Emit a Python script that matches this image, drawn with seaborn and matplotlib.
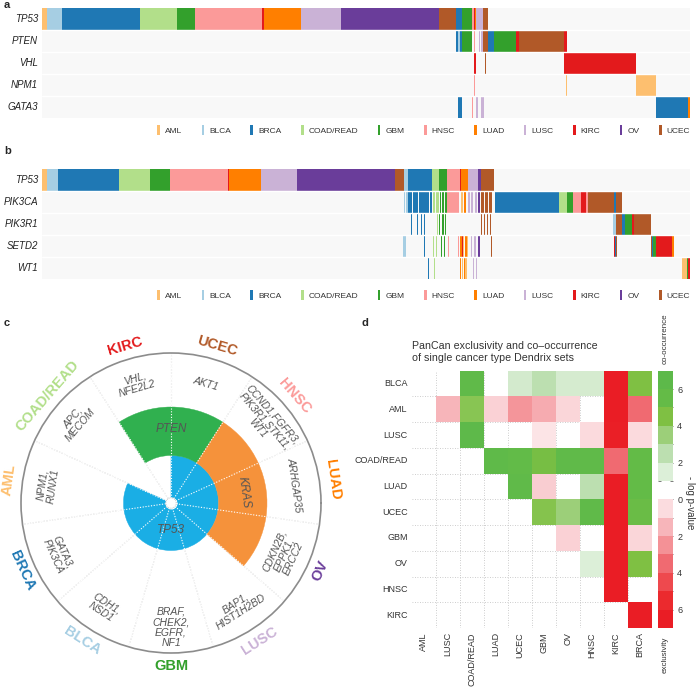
import numpy as np
import pandas as pd
import matplotlib
matplotlib.use("Agg")
import matplotlib.pyplot as plt
import seaborn as sns
from matplotlib.colors import ListedColormap, LinearSegmentedColormap
from matplotlib.patches import Patch

sns.set_style("white")
plt.rcParams['font.family'] = ['Liberation Sans', 'DejaVu Sans']

# cancer types and their colours (Paired palette)
cancers = ["AML", "BLCA", "BRCA", "COAD/READ", "GBM", "HNSC", "LUAD", "LUSC", "KIRC", "OV", "UCEC"]
palette = ["#fdbf6f", "#a6cee3", "#1f78b4", "#b2df8a", "#33a02c", "#fb9a99",
           "#ff7f00", "#cab2d6", "#e31a1c", "#6a3d9a", "#b15928"]
n_samples = 1458

# --- panel a: mutated samples per gene, runs of (cancer, first sample, last sample) ---
genes_a = ["TP53", "PTEN", "VHL", "NPM1", "GATA3"]
tp53_a = [("AML", 0, 10), ("BLCA", 10, 45), ("BRCA", 45, 221), ("COAD/READ", 221, 303),
          ("GBM", 303, 343), ("HNSC", 343, 495), ("KIRC", 495, 499), ("LUAD", 499, 583),
          ("LUSC", 583, 673), ("OV", 673, 893), ("UCEC", 893, 931), ("BRCA", 931, 944),
          ("GBM", 944, 966), ("HNSC", 968, 972), ("KIRC", 972, 974), ("LUAD", 974, 977),
          ("LUSC", 977, 991), ("UCEC", 991, 1004)]
pten_a = [("BRCA", 931, 935), ("BLCA", 935, 940), ("BRCA", 940, 944), ("GBM", 944, 966),
          ("HNSC", 972, 973), ("LUSC", 982, 984), ("LUSC", 988, 991), ("UCEC", 991, 1004),
          ("BRCA", 1004, 1017), ("GBM", 1017, 1065), ("KIRC", 1065, 1073),
          ("UCEC", 1073, 1174), ("KIRC", 1174, 1181)]
vhl_a = [("KIRC", 972, 975), ("UCEC", 987, 988), ("UCEC", 997, 998), ("KIRC", 1175, 1335)]
npm1_a = [("HNSC", 972, 973), ("AML", 1179, 1181), ("AML", 1335, 1380)]
gata3_a = [("BRCA", 935, 944), ("HNSC", 967, 970), ("LUSC", 975, 981), ("LUSC", 987, 993),
           ("BLCA", 1174, 1175), ("BRCA", 1381, 1453), ("LUAD", 1453, 1458)]

# --- panel b ---
genes_b = ["TP53", "PIK3CA", "PIK3R1", "SETD2", "WT1"]
tp53_b = [("AML", 0, 10), ("BLCA", 10, 35), ("BRCA", 35, 173), ("COAD/READ", 173, 243),
          ("GBM", 243, 287), ("HNSC", 287, 417), ("KIRC", 417, 421), ("LUAD", 421, 493),
          ("LUSC", 493, 573), ("OV", 573, 793), ("UCEC", 793, 813), ("BLCA", 813, 823),
          ("BRCA", 823, 878), ("COAD/READ", 878, 893), ("GBM", 893, 910), ("HNSC", 910, 940),
          ("KIRC", 940, 942), ("LUAD", 942, 957), ("LUSC", 957, 981), ("OV", 981, 987),
          ("UCEC", 987, 1016)]
pik3ca_b = [("BLCA", 813, 816), ("BLCA", 819, 822), ("BRCA", 824, 832), ("BRCA", 834, 846),
            ("BRCA", 848, 858), ("BRCA", 860, 870), ("BRCA", 872, 878), ("COAD/READ", 880, 884),
            ("COAD/READ", 887, 892), ("GBM", 894, 898), ("GBM", 900, 905), ("GBM", 907, 910),
            ("HNSC", 911, 938), ("AML", 943, 946), ("LUAD", 948, 953), ("LUSC", 958, 962),
            ("LUSC", 964, 970), ("LUSC", 973, 978), ("OV", 981, 984), ("UCEC", 988, 995),
            ("UCEC", 997, 1004), ("UCEC", 1006, 1012), ("BRCA", 1019, 1163),
            ("COAD/READ", 1163, 1180), ("GBM", 1180, 1195), ("HNSC", 1195, 1213),
            ("KIRC", 1213, 1223), ("HNSC", 1223, 1227), ("UCEC", 1228, 1287),
            ("BRCA", 1287, 1290), ("UCEC", 1290, 1304)]
pik3r1_b = [("BRCA", 830, 832), ("BRCA", 843, 845), ("BRCA", 853, 855), ("BRCA", 860, 862),
            ("COAD/READ", 888, 890), ("GBM", 893, 896), ("GBM", 899, 903), ("GBM", 906, 909),
            ("LUAD", 957, 959), ("UCEC", 987, 990), ("UCEC", 994, 997), ("UCEC", 1001, 1004),
            ("UCEC", 1008, 1010), ("BLCA", 1285, 1291), ("UCEC", 1291, 1304),
            ("BRCA", 1304, 1311), ("GBM", 1311, 1328), ("KIRC", 1328, 1332), ("UCEC", 1332, 1369)]
setd2_b = [("BLCA", 812, 819), ("BRCA", 860, 862), ("COAD/READ", 879, 881),
           ("COAD/READ", 886, 888), ("GBM", 898, 900), ("GBM", 905, 907), ("HNSC", 913, 915),
           ("HNSC", 935, 937), ("LUAD", 940, 944), ("KIRC", 945, 947), ("AML", 947, 950),
           ("LUAD", 951, 955), ("AML", 956, 958), ("LUSC", 965, 968), ("LUSC", 972, 976),
           ("OV", 980, 986), ("UCEC", 1010, 1012), ("KIRC", 1286, 1288), ("BRCA", 1288, 1290),
           ("UCEC", 1291, 1293), ("UCEC", 1299, 1301), ("UCEC", 1369, 1371), ("BRCA", 1371, 1375),
           ("GBM", 1375, 1381), ("KIRC", 1381, 1416), ("LUAD", 1416, 1421)]
wt1_b = [("BLCA", 813, 815), ("BRCA", 868, 870), ("COAD/READ", 881, 883), ("LUAD", 940, 943),
         ("AML", 944, 947), ("LUAD", 948, 951), ("AML", 952, 956), ("LUSC", 969, 972),
         ("LUSC", 976, 979), ("AML", 1440, 1450), ("GBM", 1450, 1453), ("KIRC", 1453, 1457)]

# --- panel c: Dendrix sets per cancer type ---
sector_types = ["UCEC", "HNSC", "LUAD", "OV", "LUSC", "GBM", "BLCA", "BRCA", "AML", "COAD/READ", "KIRC"]
sector_genes = ["AKT1", "CCND1,FGFR3,\nPIK3R1,STK11,\nWT1", "ARHGAP35", "CDKN2B,\nEPPK1,\nERCC2",
                "BAP1,\nHIST1H2BD", "BRAF,\nCHEK2,\nEGFR,\nNF1", "CDH1,\nNSD1", "GATA3,\nPIK3CA",
                "NPM1,\nRUNX1", "APC,\nMECOM", "VHL,\nNFE2L2"]
tp53_types = ["UCEC", "HNSC", "LUAD", "OV", "LUSC", "GBM", "BLCA", "BRCA", "AML"]
pten_types = ["KIRC", "UCEC"]
kras_types = ["HNSC", "LUAD", "OV"]

# --- panel d: -log p-values (negative = co-occurrence, positive = exclusivity) ---
d_rows = ["BLCA", "AML", "LUSC", "COAD/READ", "LUAD", "UCEC", "GBM", "OV", "HNSC", "KIRC"]
d_cols = ["AML", "LUSC", "COAD/READ", "LUAD", "UCEC", "GBM", "OV", "HNSC", "KIRC", "BRCA"]
n = np.nan
d_vals = [
    [n, n, -6.0, n, -1.8, -2.5, -1.7, -1.7, 6.6, -4.5],
    [n, 1.5, -4.2, 0.8, 2.4, 1.8, 0.7, n, 6.8, 3.5],
    [n, n, -6.3, n, n, 0.3, n, 0.6, 6.3, 0.6],
    [n, n, n, -6.2, -5.7, -4.8, -6.0, -6.0, 3.5, -5.6],
    [n, n, n, n, -6.0, 0.9, n, -2.5, 6.6, -5.6],
    [n, n, n, n, n, -4.3, -3.5, -6.0, 6.6, -5.3],
    [n, n, n, n, n, n, 0.8, n, 6.6, 0.7],
    [n, n, n, n, n, n, n, -1.5, 6.6, -4.5],
    [n, n, n, n, n, n, n, n, 6.6, n],
    [n, n, n, n, n, n, n, n, n, 6.6],
]
cbar_bins = [-6.5, -5.5, -4.5, -3.5, -2.5, -1.5, n, 0.5, 1.5, 2.5, 3.5, 4.5, 5.5, 6.5]

W, H = 697, 689
fig = plt.figure(figsize=(W / 100, H / 100), dpi=100)


def px_rect(x0, y0, x1, y1):
    return [x0 / W, 1 - y1 / H, (x1 - x0) / W, (y1 - y0) / H]


def runs_matrix(all_runs):
    mat = np.full((len(all_runs), n_samples), np.nan)
    for i, runs in enumerate(all_runs):
        for cancer, a, b in runs:
            mat[i, a:b] = cancers.index(cancer)
    return mat


def oncoprint(ax, genes, all_runs, legend_y):
    mat = runs_matrix(all_runs)
    sns.heatmap(mat, ax=ax, cmap=ListedColormap(palette), vmin=-0.5, vmax=10.5,
                mask=np.isnan(mat), cbar=False, xticklabels=False, yticklabels=genes)
    ax.set_facecolor("#f8f8f8")
    for i in range(1, len(genes)):
        ax.axhline(i, color="white", lw=1.0)
    ax.set_yticklabels(genes, rotation=0, fontstyle="italic", fontsize=7, color="#222")
    ax.tick_params(length=0, pad=3)
    handles = [Patch(facecolor=c, edgecolor="none") for c in palette]
    ax.legend(handles, cancers, loc="center right", bbox_to_anchor=(1.0, legend_y), ncol=11,
              frameon=False, fontsize=6, handlelength=0.35, handleheight=1.4,
              handletextpad=0.6, columnspacing=2.3, borderpad=0, borderaxespad=0,
              labelcolor="#333")


ax_a = fig.add_axes(px_rect(42.2, 8, 690.2, 118))
oncoprint(ax_a, genes_a, [tp53_a, pten_a, vhl_a, npm1_a, gata3_a], -0.11)
ax_b = fig.add_axes(px_rect(42.2, 169, 690.2, 279))
oncoprint(ax_b, genes_b, [tp53_b, pik3ca_b, pik3r1_b, setd2_b, wt1_b], -0.145)

# --- panel c ---
axc = fig.add_axes(px_rect(21, 353, 321, 653), projection="polar")
nsec = len(sector_types)
sec_w = 2 * np.pi / nsec
centers = {t: np.pi / 2 - (i + 0.5) * sec_w for i, t in enumerate(sector_types)}
r_hole, r_in, r_out = 0.035, 0.317, 0.64


def tang_rot(theta):
    deg = (np.degrees(theta) + 180) % 360 - 180
    return deg - 90 if deg >= 0 else deg + 90


for t in tp53_types:
    axc.bar(centers[t], r_in, width=sec_w, bottom=0, color="#1aaee5", edgecolor="#1aaee5", lw=0.3, zorder=1)
for t in pten_types:
    axc.bar(centers[t], r_out - r_in, width=sec_w, bottom=r_in, color="#30b04f", edgecolor="#30b04f", lw=0.3, zorder=1)
for t in kras_types:
    axc.bar(centers[t], r_out - r_in, width=sec_w, bottom=r_in, color="#f5923b", edgecolor="#f5923b", lw=0.3, zorder=1)

for i in range(nsec):
    th = np.pi / 2 - i * sec_w
    axc.plot([th, th], [r_hole, 1], color="#c4c4c4", ls=(0, (1, 1.5)), lw=0.8, zorder=0.5)
    axc.plot([th, th], [r_hole, 1], color="white", ls=(0, (1, 1.5)), lw=0.8, zorder=2)
circ = np.linspace(0, 2 * np.pi, 200)
axc.fill_between(circ, 0, r_hole, color="white", zorder=3)
axc.plot(circ, np.full_like(circ, r_hole), color="#c4c4c4", ls=(0, (1, 1)), lw=0.7, zorder=4)

for t, g in zip(sector_types, sector_genes):
    th = centers[t]
    axc.text(th, 0.83, g, rotation=tang_rot(th), rotation_mode="anchor", ha="center", va="center",
             fontsize=7.5, style="italic", color="#555", linespacing=1.05, zorder=5)
    axc.text(th, 1.09, t, rotation=tang_rot(th), rotation_mode="anchor", ha="center", va="center",
             fontsize=10.5, fontweight="bold", color=palette[cancers.index(t)], clip_on=False)

axc.text(centers["GBM"], 0.18, "TP53", rotation=0, ha="center", va="center",
         fontsize=8.5, style="italic", color="#555", zorder=5)
axc.text(np.pi / 2, 0.49, "PTEN", rotation=0, ha="center", va="center",
         fontsize=8.5, style="italic", color="#555", zorder=5)
axc.text(centers["LUAD"], 0.49, "KRAS", rotation=tang_rot(centers["LUAD"]), rotation_mode="anchor",
         ha="center", va="center", fontsize=8.5, style="italic", color="#555", zorder=5)
axc.set_ylim(0, 1)
axc.set_xticks([])
axc.set_yticks([])
axc.grid(False)
axc.spines["polar"].set_color("#8c8c8c")
axc.spines["polar"].set_linewidth(1.2)

# --- panel d ---
nodes = [(-7, "#5ab848"), (-6.5, "#5db94a"), (-5.5, "#64bb47"), (-4.5, "#80c043"),
         (-3.5, "#9ccf78"), (-2.5, "#bcdfb0"), (-1.5, "#dcefd8"), (-0.5, "#ffffff"),
         (0.5, "#fbdde0"), (1.5, "#f7b5ba"), (2.5, "#f49196"), (3.5, "#f06b72"),
         (4.5, "#ee4a4f"), (5.5, "#eb2a2e"), (6.5, "#ea1d25"), (7, "#ea1d25")]
cmap_d = LinearSegmentedColormap.from_list("excl", [((v + 7) / 14, c) for v, c in nodes])

dfd = pd.DataFrame(d_vals, index=d_rows, columns=d_cols)
axd = fig.add_axes(px_rect(411.7, 370.7, 651.7, 628))
sns.heatmap(dfd, ax=axd, cmap=cmap_d, vmin=-7, vmax=7, mask=dfd.isna(), cbar=False)
for k in range(1, 10):
    axd.axhline(k, color="#bdbdbd", ls=(0, (1, 2)), lw=0.6, zorder=0.5)
    axd.axvline(k, color="#bdbdbd", ls=(0, (1, 2)), lw=0.6, zorder=0.5)
axd.tick_params(length=0, pad=3, labelsize=6.5, labelcolor="#333")
axd.set_yticklabels(d_rows, rotation=0)
axd.set_xticklabels(d_cols, rotation=90)
axd.text(0.0, 1.03, "PanCan exclusivity and co\u2013occurrence\nof single cancer type Dendrix sets",
         transform=axd.transAxes, ha="left", va="bottom", fontsize=7.7, color="#333", linespacing=1.3)

cax = fig.add_axes(px_rect(658, 370.7, 673, 628))
sns.heatmap(np.array(cbar_bins).reshape(-1, 1), ax=cax, cmap=cmap_d, vmin=-7, vmax=7,
            mask=np.isnan(np.array(cbar_bins).reshape(-1, 1)), cbar=False,
            xticklabels=False, yticklabels=False)
tick_vals = [-6, -4, -2, 0, 2, 4, 6]
cax.set_yticks([v + 7 for v in tick_vals])
cax.set_yticklabels([str(abs(v)) for v in tick_vals])
cax.set_yticks([v + 7 for v in range(-6, 7)], minor=True)
cax.yaxis.tick_right()
cax.tick_params(axis="y", which="both", direction="in", length=2, width=0.6, color="#666",
                left=True, right=True, labelsize=6.5, labelcolor="#333", pad=3)
fig.text(665 / W, 1 - 339 / H, "co-occurrence", rotation=90, ha="center", va="center",
         fontsize=5.8, color="#333")
fig.text(665 / W, 1 - 655 / H, "exclusivity", rotation=90, ha="center", va="center",
         fontsize=5.8, color="#333")
fig.text(690 / W, 1 - 503 / H, "- log p-value", rotation=270, ha="center", va="center",
         fontsize=7, color="#333")

# panel letters
for letter, x, y in [("a", 4, 5), ("b", 4, 151), ("c", 4, 323), ("d", 362, 323)]:
    fig.text(x / W, 1 - y / H, letter, fontweight="bold", fontsize=8, va="center", ha="left")

fig.savefig("out.png", dpi=100)
